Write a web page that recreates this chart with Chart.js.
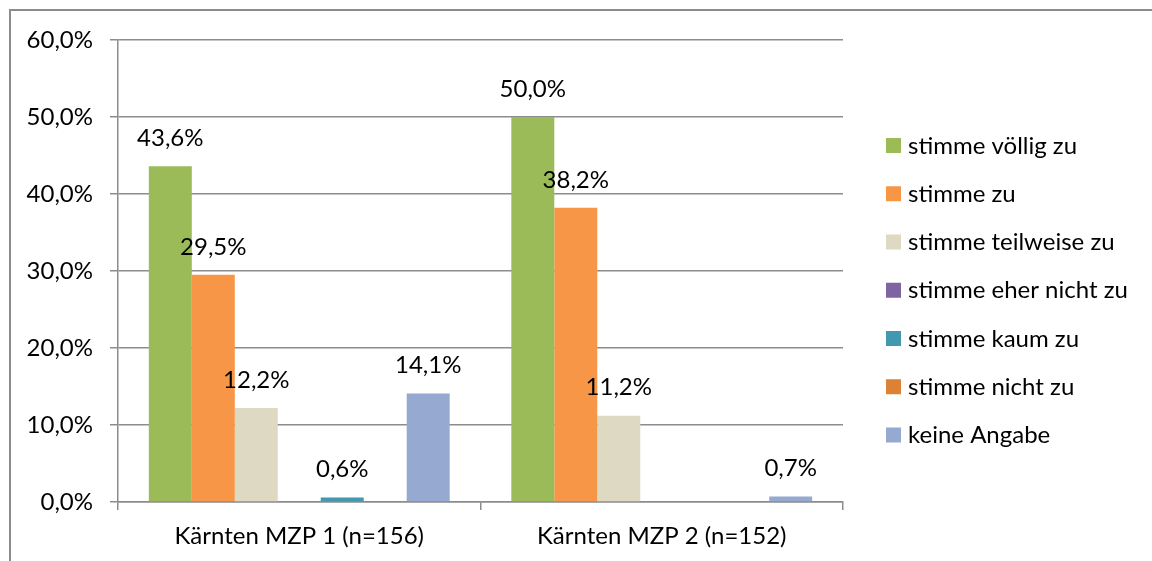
<!DOCTYPE html>
<html lang="de">
<head>
<meta charset="utf-8">
<title>Kärnten MZP 1 / MZP 2</title>
<script src="https://cdn.jsdelivr.net/npm/chart.js@4/dist/chart.umd.min.js"></script>
<style>
  html, body { margin: 0; padding: 0; background: #fff; overflow: hidden; }
  #frame {
    position: absolute; left: 9px; top: 9px; width: 1200px; height: 600px;
    border-left: 2px solid #8c8c8c; border-top: 2px solid #8c8c8c;
  }
  #chart { position: absolute; left: 0; top: 0; }
</style>
</head>
<body>
<div id="frame"></div>
<canvas id="chart" width="1152" height="561"></canvas>
<script>
// Gruppen auf der x-Achse
const categories = ['Kärnten MZP 1 (n=156)', 'Kärnten MZP 2 (n=152)'];

// Antwortkategorien (Reihen) und ihre Farben
const seriesNames = [
  'stimme völlig zu',
  'stimme zu',
  'stimme teilweise zu',
  'stimme eher nicht zu',
  'stimme kaum zu',
  'stimme nicht zu',
  'keine Angabe'
];
const seriesColors = ['#9bbb59', '#f79646', '#ddd9c3', '#8064a2', '#4198af', '#dd8136', '#95a9d1'];

// Anteile in Prozent je Gruppe
const voelligZu      = [43.6, 50.0];
const stimmeZu       = [29.5, 38.2];
const teilweiseZu    = [12.2, 11.2];
const eherNichtZu    = [0, 0];
const kaumZu         = [0.6, 0];
const nichtZu        = [0, 0];
const keineAngabe    = [14.1, 0.7];
const seriesValues = [voelligZu, stimmeZu, teilweiseZu, eherNichtZu, kaumZu, nichtZu, keineAngabe];

// y-Achse
const yTicks = [0, 10, 20, 30, 40, 50, 60];

const FONT = 'Lato, "Open Sans", sans-serif';
const FONT_SIZE = 24;
const fmt = v => v.toFixed(1).replace('.', ',') + '%';

// Wertbeschriftungen über den Balken (Nullwerte bleiben unbeschriftet)
const valueLabels = {
  id: 'valueLabels',
  afterDatasetsDraw(chart) {
    const ctx = chart.ctx;
    ctx.save();
    ctx.font = FONT_SIZE + 'px ' + FONT;
    ctx.fillStyle = '#000';
    ctx.textAlign = 'center';
    ctx.textBaseline = 'middle';
    chart.data.datasets.forEach((ds, i) => {
      chart.getDatasetMeta(i).data.forEach((bar, j) => {
        const v = ds.data[j];
        if (!v) return;
        ctx.fillText(fmt(v), bar.x, bar.y - 28);
      });
    });
    ctx.restore();
  }
};

// Legende rechts neben dem Diagrammbereich
const sideLegend = {
  id: 'sideLegend',
  afterDraw(chart) {
    const ctx = chart.ctx;
    const area = chart.chartArea;
    const x0 = area.right + 43;
    const y0 = area.top + 105;
    const step = 48.25;
    ctx.save();
    ctx.font = FONT_SIZE + 'px ' + FONT;
    ctx.textBaseline = 'middle';
    ctx.textAlign = 'left';
    chart.data.datasets.forEach((ds, i) => {
      const cy = y0 + i * step;
      ctx.fillStyle = ds.backgroundColor;
      ctx.fillRect(x0, cy - 7, 15, 15);
      ctx.fillStyle = '#000';
      ctx.fillText(ds.label, x0 + 22, cy + 1);
    });
    ctx.restore();
  }
};

const datasets = seriesNames.map((name, i) => ({
  label: name,
  data: seriesValues[i],
  backgroundColor: seriesColors[i],
  borderWidth: 0,
  categoryPercentage: 0.83,
  barPercentage: 1.0
}));

new Chart(document.getElementById('chart'), {
  type: 'bar',
  data: { labels: categories, datasets },
  options: {
    responsive: false,
    animation: false,
    devicePixelRatio: 1,
    layout: { padding: { top: 40, right: 309, bottom: 0, left: 0 } },
    plugins: {
      legend: { display: false },
      tooltip: { enabled: false }
    },
    scales: {
      x: {
        afterFit(scale) { scale.height = 59; },
        grid: {
          display: true,
          offset: true,
          drawOnChartArea: false,
          drawTicks: true,
          tickLength: 8,
          color: '#8c8c8c',
          lineWidth: 1.5
        },
        border: { display: true, color: '#8c8c8c', width: 1.5 },
        ticks: {
          color: '#000',
          padding: 12,
          font: { family: FONT, size: FONT_SIZE }
        }
      },
      y: {
        min: 0,
        max: 60,
        afterFit(scale) { scale.width = 118; },
        afterBuildTicks(scale) { scale.ticks = yTicks.map(v => ({ value: v })); },
        grid: {
          color: '#8c8c8c',
          lineWidth: 1.5,
          drawTicks: true,
          tickLength: 8
        },
        border: { display: true, color: '#8c8c8c', width: 1.5 },
        ticks: {
          color: '#000',
          padding: 17,
          font: { family: FONT, size: FONT_SIZE },
          callback: v => fmt(v)
        }
      }
    }
  },
  plugins: [valueLabels, sideLegend]
});
</script>
</body>
</html>
